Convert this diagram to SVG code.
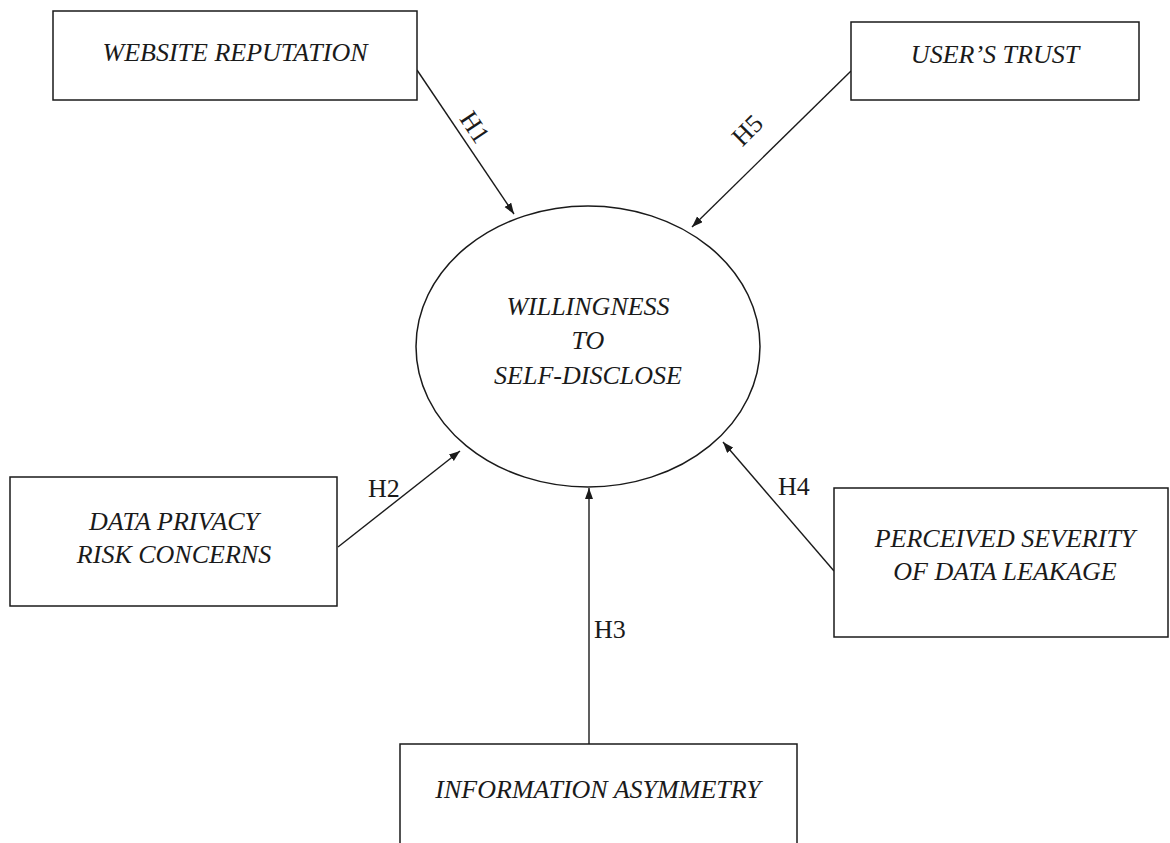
<svg xmlns="http://www.w3.org/2000/svg" width="1170" height="843" viewBox="0 0 1170 843">
<style>
.box{fill:#fff;stroke:#1a1a1a;stroke-width:1.5}
.node{font-family:"Liberation Serif","Times New Roman",serif;font-style:italic;font-size:26px;fill:#1a1a1a;text-anchor:middle}
.lbl{font-family:"Liberation Serif","Times New Roman",serif;font-size:26px;fill:#1a1a1a}
.con{stroke:#1a1a1a;stroke-width:1.4;fill:none;marker-end:url(#arr)}
</style>
<defs>
<marker id="arr" markerUnits="userSpaceOnUse" markerWidth="12" markerHeight="9" refX="11" refY="4" orient="auto">
<path d="M0,0 L11,4 L0,8 z" fill="#1a1a1a"/>
</marker>
</defs>
<rect width="1170" height="843" fill="#fff"/>
<g id="connectors">
<line class="con" x1="417" y1="70" x2="514" y2="214"/>
<line class="con" x1="851" y1="71" x2="692" y2="227"/>
<line class="con" x1="338" y1="547" x2="460" y2="451"/>
<line class="con" x1="834" y1="571" x2="723" y2="442"/>
<line class="con" x1="589" y1="744" x2="589" y2="488"/>
<text class="lbl" text-anchor="middle" transform="translate(475,127) rotate(56)" y="9">H1</text>
<text class="lbl" text-anchor="middle" transform="translate(747,130) rotate(-45)" y="9">H5</text>
<text class="lbl" x="368" y="497">H2</text>
<text class="lbl" x="778" y="495">H4</text>
<text class="lbl" x="594" y="638">H3</text>
</g>
<g id="website-reputation">
<rect class="box" x="53" y="11" width="364" height="89"/>
<text class="node" x="235" y="61">WEBSITE REPUTATION</text>
</g>
<g id="users-trust">
<rect class="box" x="851" y="22" width="288" height="78"/>
<text class="node" x="995" y="63">USER’S TRUST</text>
</g>
<g id="willingness">
<ellipse cx="588" cy="346.5" rx="172" ry="140.5" fill="#fff" stroke="#1a1a1a" stroke-width="1.5"/>
<text class="node" x="588" y="315">WILLINGNESS</text>
<text class="node" x="588" y="349">TO</text>
<text class="node" x="588" y="384">SELF-DISCLOSE</text>
</g>
<g id="data-privacy">
<rect class="box" x="10" y="477" width="327" height="129"/>
<text class="node" x="174" y="530">DATA PRIVACY</text>
<text class="node" x="174" y="563">RISK CONCERNS</text>
</g>
<g id="perceived-severity">
<rect class="box" x="834" y="488" width="334" height="149"/>
<text class="node" x="1005" y="547">PERCEIVED SEVERITY</text>
<text class="node" x="1005" y="580">OF DATA LEAKAGE</text>
</g>
<g id="information-asymmetry">
<rect class="box" x="400" y="744" width="397" height="110"/>
<text class="node" x="598" y="798">INFORMATION ASYMMETRY</text>
</g>
</svg>
